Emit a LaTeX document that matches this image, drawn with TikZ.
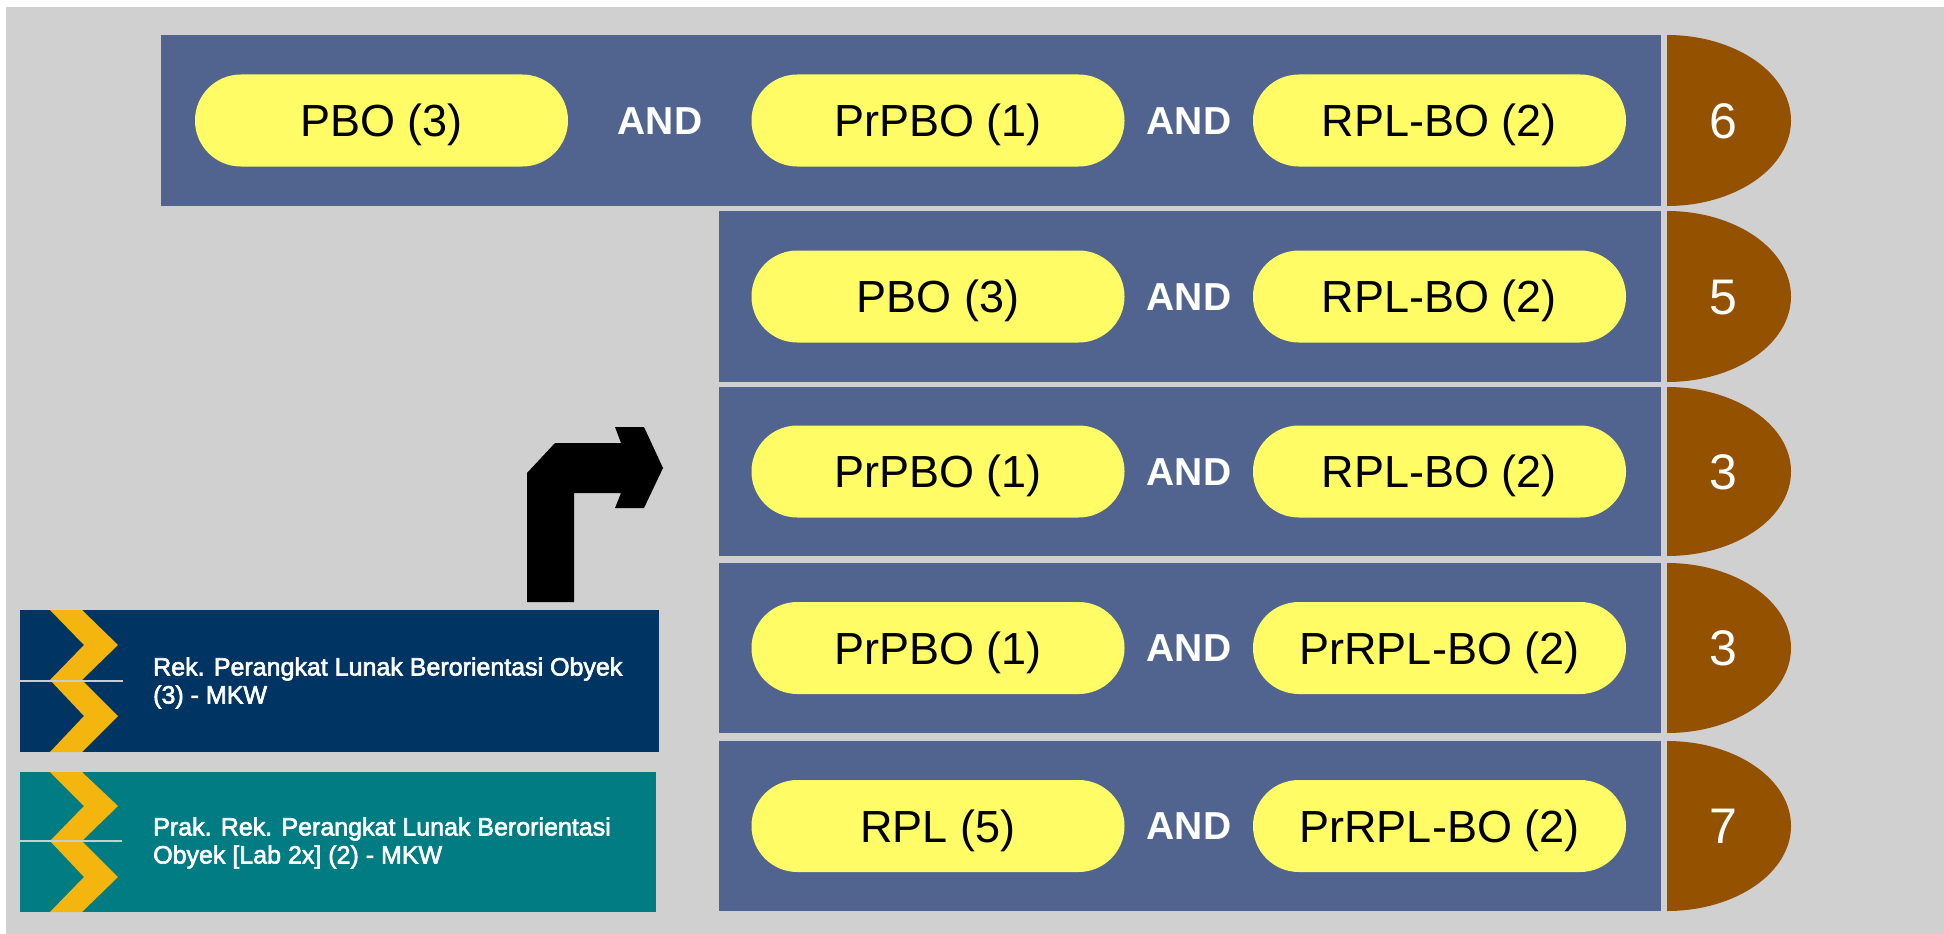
\documentclass[tikz,border=0pt]{standalone}
\usepackage{fontspec}
\setmainfont{Liberation Sans}
\newfontfamily\cardfont[FakeBold=2.5]{Liberation Sans}
\definecolor{bggray}{RGB}{208,208,208}
\definecolor{panelblue}{RGB}{80,100,143}
\definecolor{pillyellow}{RGB}{255,252,102}
\definecolor{numbrown}{RGB}{148,82,0}
\definecolor{cardnavy}{RGB}{0,52,98}
\definecolor{cardteal}{RGB}{0,124,130}
\definecolor{chevron}{RGB}{244,181,14}
\definecolor{cardline}{RGB}{200,205,212}
\begin{document}
\begin{tikzpicture}[x=1pt,y=-1pt,
  panel/.style={fill=panelblue},
  pill/.style={fill=pillyellow, rounded corners=45.9pt, minimum width=373pt, minimum height=92pt, inner sep=0pt, text=black, text height=32.2pt, text depth=0pt, font=\fontsize{45}{54}\selectfont},
  andlbl/.style={text=white, inner sep=0pt, text height=27.9pt, text depth=0pt, font=\fontsize{39}{47}\selectfont\bfseries},
  numlbl/.style={text=white, inner sep=0pt, text height=35.8pt, text depth=0pt, font=\fontsize{50}{60}\selectfont},
  cardtext/.style={text=white, inner sep=0pt, anchor=west, align=left, font=\cardfont\fontsize{25}{28}\selectfont},
  chev/.style={fill=chevron},
  sepline/.style={draw=cardline, line width=1.5pt}]
\useasboundingbox (0,0) rectangle (1944,934);
\fill[white] (0,0) rectangle (1944,934);
\fill[bggray] (6,7) rectangle (1944,934);
% panels
\fill[panel] (161,35) rectangle (1661,206);
\fill[panel] (719,211) rectangle (1661,382);
\fill[panel] (719,387) rectangle (1661,556);
\fill[panel] (719,563) rectangle (1661,733);
\fill[panel] (719,741) rectangle (1661,911);
% brown half ellipses
\begin{scope}
\clip (1667,0) rectangle (1944,934);
\fill[numbrown] (1667,120.5) ellipse [x radius=124, y radius=85.5];
\fill[numbrown] (1667,296.5) ellipse [x radius=124, y radius=85.5];
\fill[numbrown] (1667,471.5) ellipse [x radius=124, y radius=84.5];
\fill[numbrown] (1667,648) ellipse [x radius=124, y radius=85];
\fill[numbrown] (1667,826) ellipse [x radius=124, y radius=85];
\end{scope}
\node[numlbl] (n1) at (1723,120.5) {6};
\node[numlbl] (n2) at (1723,296.5) {5};
\node[numlbl] (n3) at (1723,471.5) {3};
\node[numlbl] (n4) at (1723,648) {3};
\node[numlbl] (n5) at (1723,826) {7};
% row 1
\node[pill] (r1a) at (381.5,120.5) {PBO (3)};
\node[andlbl] (r1and1) at (660,120.5) {AND};
\node[pill] (r1b) at (938,120.5) {PrPBO (1)};
\node[andlbl] (r1and2) at (1189,120.5) {AND};
\node[pill] (r1c) at (1439.5,120.5) {RPL-BO (2)};
% row 2
\node[pill] (r2b) at (938,296.5) {PBO (3)};
\node[andlbl] (r2and) at (1189,296.5) {AND};
\node[pill] (r2c) at (1439.5,296.5) {RPL-BO (2)};
% row 3
\node[pill] (r3b) at (938,471.5) {PrPBO (1)};
\node[andlbl] (r3and) at (1189,471.5) {AND};
\node[pill] (r3c) at (1439.5,471.5) {RPL-BO (2)};
% row 4
\node[pill] (r4b) at (938,648) {PrPBO (1)};
\node[andlbl] (r4and) at (1189,648) {AND};
\node[pill] (r4c) at (1439.5,648) {PrRPL-BO (2)};
% row 5
\node[pill] (r5b) at (938,826) {RPL (5)};
\node[andlbl] (r5and) at (1189,826) {AND};
\node[pill] (r5c) at (1439.5,826) {PrRPL-BO (2)};
% turn arrow
\fill[black] (527,602) -- (527,473) -- (555,443) -- (621,443) -- (615,427) -- (644,427) -- (663,468) -- (644,508) -- (615,508) -- (621,493) -- (574,493) -- (574,602) -- cycle;
% card 1
\fill[cardnavy] (20,610) rectangle (659,752);
\fill[chev] (50,610) -- (82,610) -- (118,645) -- (82,680) -- (118,716) -- (82,752) -- (50,752) -- (84,716) -- (50,680) -- (84,645) -- cycle;
\draw[sepline] (20,681) -- (123,681);
\node[cardtext] (c1) at (153,683) {Rek. Perangkat Lunak Berorientasi Obyek\\(3) - MKW};
% card 2
\fill[cardteal] (20,772) rectangle (656,912);
\fill[chev] (50,772) -- (82,772) -- (118,806) -- (82,841) -- (118,877) -- (82,912) -- (50,912) -- (84,877) -- (50,841) -- (84,806) -- cycle;
\draw[sepline] (20,841) -- (122,841);
\node[cardtext] (c2) at (153,843) {Prak. Rek. Perangkat Lunak Berorientasi\\Obyek [Lab 2x] (2) - MKW};
\end{tikzpicture}
\end{document}
